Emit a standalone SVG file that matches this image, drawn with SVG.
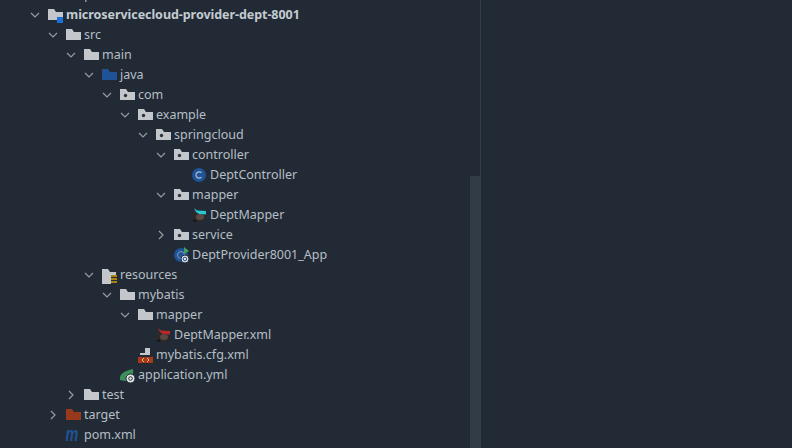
<svg xmlns="http://www.w3.org/2000/svg" width="792" height="448" viewBox="0 0 792 448">
<style>
text{font-family:"Noto Sans","Open Sans","Liberation Sans",sans-serif;font-size:12.500px;fill:#b6bec6}
.b{font-weight:700;fill:#c4cbd2;letter-spacing:-.05px}
.ch{fill:none;stroke:#949ca4;stroke-width:1.200}
.f{fill:#c3c7cc}
</style>
<defs>
<path id="fold" d="M0 0H6L8 3H15V11H0Z"/>
<g id="pkg"><use href="#fold" class="f"/><circle cx="5.500" cy="6.500" r="1.700" fill="#2b333c"/></g>
<path id="down" class="ch" d="M0 0L4 4L8 0"/>
<path id="right" class="ch" d="M0 0L4 4L0 8"/>
<g id="bird"><ellipse cx="0" cy="1.500" rx="6.500" ry="5.500" fill="#2e2827"/><ellipse cx="1" cy="2" rx="4" ry="3" fill="#5a4845"/><path d="M-7 6C-5 7 -3 7 -2 6.500L-4 4Z" fill="#16181a"/></g>
</defs>
<rect width="792" height="448" fill="#222b35"/>
<rect x="470" y="176" width="10.500" height="272" fill="#313c46"/>
<rect x="480" y="0" width="1" height="448" fill="#323e49"/>
<rect x="85" y="0" width="1.500" height="2" fill="#8f959b"/>
<g id="connectors">
<use href="#down" x="31" y="13"/>
<use href="#down" x="49" y="33"/>
<use href="#down" x="67" y="53"/>
<use href="#down" x="85" y="73"/>
<use href="#down" x="103" y="93"/>
<use href="#down" x="121" y="113"/>
<use href="#down" x="139" y="133"/>
<use href="#down" x="157" y="153"/>
<use href="#down" x="157" y="193"/>
<use href="#right" x="159" y="231"/>
<use href="#down" x="85" y="273"/>
<use href="#down" x="103" y="293"/>
<use href="#down" x="121" y="313"/>
<use href="#right" x="69" y="391"/>
<use href="#right" x="51" y="411"/>
</g>
<g id="n-root"><use href="#fold" x="48" y="9" class="f"/><rect x="57" y="17" width="6" height="6" fill="#1e6fd6"/><text x="66" y="19" class="b">microservicecloud-provider-dept-8001</text></g>
<g id="n-src"><use href="#fold" x="66" y="29" class="f"/><text x="84" y="39">src</text></g>
<g id="n-main"><use href="#fold" x="84" y="49" class="f"/><text x="102" y="59">main</text></g>
<g id="n-java"><use href="#fold" x="102" y="69" fill="#1f5296"/><text x="120" y="79">java</text></g>
<g id="n-com"><use href="#pkg" x="120" y="89"/><text x="138" y="99">com</text></g>
<g id="n-example"><use href="#pkg" x="138" y="109"/><text x="156" y="119">example</text></g>
<g id="n-springcloud"><use href="#pkg" x="156" y="129"/><text x="174" y="139">springcloud</text></g>
<g id="n-controller"><use href="#pkg" x="174" y="149"/><text x="192" y="159">controller</text></g>
<g id="n-deptcontroller"><circle cx="199" cy="175" r="7" fill="#1f5296"/><path d="M201.500 172.800A3.200 3.200 0 1 0 201.500 177.200" fill="none" stroke="#a9bdd6" stroke-width="1.200"/><text x="210" y="179">DeptController</text></g>
<g id="n-mapper"><use href="#pkg" x="174" y="189"/><text x="192" y="199">mapper</text></g>
<g id="n-deptmapper"><use href="#bird" x="199" y="215"/><path d="M194 208L197 210.500L206 211V214.500L199 214L196 212Z" fill="#28c8d2"/><text x="210" y="219">DeptMapper</text></g>
<g id="n-service"><use href="#pkg" x="174" y="229"/><text x="192" y="239">service</text></g>
<g id="n-app"><circle cx="181" cy="255" r="7" fill="#1f5296"/><circle cx="181" cy="255" r="3.500" fill="none" stroke="#7f9cc0" stroke-width="1"/><path d="M184 247L189 251L184 254Z" fill="#3fa55b"/><circle cx="185" cy="259" r="4" fill="#dfe3e8" stroke="#222b35"/><circle cx="185" cy="259" r="1.800" fill="none" stroke="#1f5296"/><text x="192" y="259">DeptProvider8001_App</text></g>
<g id="n-resources"><path d="M102 269H108L110 272H116V275H111V284H102Z" class="f"/><path d="M111 276H117M111 279H117M111 282H117" stroke="#d6a400" stroke-width="1.300"/><text x="120" y="279">resources</text></g>
<g id="n-mybatis"><use href="#fold" x="120" y="289" class="f"/><text x="138" y="299">mybatis</text></g>
<g id="n-mapper2"><use href="#fold" x="138" y="309" class="f"/><text x="156" y="319">mapper</text></g>
<g id="n-deptmapperxml"><use href="#bird" x="163" y="335"/><path d="M158 328L161 330.500L170 331V334.500L163 334L160 332Z" fill="#b8282a"/><text x="174" y="339">DeptMapper.xml</text></g>
<g id="n-cfg"><path d="M145 348H150V355H140V353H145Z" fill="#c3c7cc"/><rect x="138" y="357" width="15" height="6" fill="#a63a17"/><path d="M144 358L142 360L144 362M147 358L149 360L147 362" fill="none" stroke="#e8d5cc" stroke-width=".8"/><text x="156" y="359">mybatis.cfg.xml</text></g>
<g id="n-yml"><path d="M120 380C119 374 124 371 133 369C134 375 131 380 125 381Z" fill="#3d8f5c"/><circle cx="130.500" cy="378.500" r="4.500" fill="#dfe3e8" stroke="#222b35"/><circle cx="130.500" cy="378.500" r="1.800" fill="none" stroke="#333"/><text x="138" y="379">application.yml</text></g>
<g id="n-test"><use href="#fold" x="84" y="389" class="f"/><text x="102" y="399">test</text></g>
<g id="n-target"><use href="#fold" x="66" y="409" fill="#97391a"/><text x="84" y="419">target</text></g>
<g id="n-pom"><text transform="translate(65.500 440.500) scale(.9 1.250)" style="font-family:'Liberation Sans',sans-serif;font-size:16px;font-weight:700;font-style:italic;fill:#1f5296">m</text><text x="84" y="439">pom.xml</text></g>
</svg>
